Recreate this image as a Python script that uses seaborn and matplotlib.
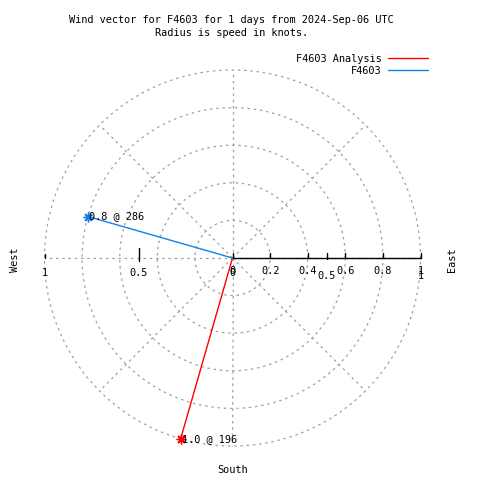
import numpy as np
import pandas as pd
import matplotlib
matplotlib.use('Agg')
import matplotlib.pyplot as plt
import seaborn as sns

# ── DATA ────────────────────────────────────────────────────
series = ['F4603 Analysis', 'F4603']
speeds = [1.0, 0.8]
directions = [196, 286]
colors = ['#ff0000', '#1080f0']
x_ticks = [-1, -0.5, 0, 0.5, 1]
x_tick_labels = ['1', '0.5', '0', '0.5', '1']
r_ticks = [0, 0.2, 0.4, 0.6, 0.8, 1.0]
r_tick_labels = ['0', '0.2', '0.4', '0.6', '0.8', '1']
grid_radii = [0.2, 0.4, 0.6, 0.8, 1.0]
grid_angles = [0, 45, 90, 135, 180, 225, 270, 315]

sns.set_style('white')
plt.rcParams['font.family'] = ['DejaVu Sans Mono']
plt.rcParams['text.color'] = 'black'
FS = 7.4

fig = plt.figure(figsize=(4.8, 4.8), dpi=100)
W = 480
cx, cy, R = 232.5, 258, 188
ax = fig.add_axes([(cx - R) / W, (W - cy - R) / W, 2 * R / W, 2 * R / W])
ax.set_xlim(-1, 1)
ax.set_ylim(-1, 1)
ax.axis('off')

def px(x, y):
    # pixel position -> data coords
    return (x - cx) / R, (cy - y) / R

grid_kw = dict(color='#a0a0a0', lw=0.9, ls=(0, (2, 3)), clip_on=False, zorder=1)
t = np.linspace(0, 2 * np.pi, 400)
for r in grid_radii:
    ax.plot(r * np.cos(t), r * np.sin(t), **grid_kw)
for a in grid_angles:
    ang = np.deg2rad(a)
    ax.plot([0, np.cos(ang)], [0, np.sin(ang)], **grid_kw)

# r axis (black, east)
ax.plot([0, 1], [0, 0], color='black', lw=1, clip_on=False, zorder=2)
for r in r_ticks:
    ax.plot([r, r], [0, 5 / R], color='black', lw=1, clip_on=False, zorder=2)
for r, lab in zip(r_ticks, r_tick_labels):
    ax.text(r, -13 / R, lab, ha='center', va='center', fontsize=FS)
# x axis ticks
for xv, lab in zip(x_ticks, x_tick_labels):
    if xv in (-0.5, 0.5):
        ax.plot([xv, xv], [-3 / R, 10 / R] if xv < 0 else [-1 / R, 5 / R],
                color='black', lw=1, clip_on=False, zorder=2)
    if xv == -1:
        ax.plot([xv, xv], [0, 4 / R], color='black', lw=1, clip_on=False, zorder=2)
    dy = -18 / R if xv > 0 else -15 / R
    ax.text(xv, dy, lab, ha='center', va='center', fontsize=FS)

# wind vectors
df = pd.DataFrame({'series': series, 'speed': speeds, 'dir': directions})
df['x'] = df['speed'] * np.sin(np.deg2rad(df['dir']))
df['y'] = df['speed'] * np.cos(np.deg2rad(df['dir']))
for (_, row), c in zip(df.iterrows(), colors):
    seg = pd.DataFrame({'x': [0, row['x']], 'y': [0, row['y']]})
    sns.lineplot(data=seg, x='x', y='y', sort=False, color=c, lw=1,
                 ax=ax, label=row['series'], zorder=3)
    ax.plot(row['x'], row['y'], marker=(8, 2, 0), ms=7, mew=1, color=c,
            clip_on=False, zorder=4)
    ax.text(row['x'] + 1 / R, row['y'], f"{row['speed']:.1f} @ {row['dir']}",
            ha='left', va='center', fontsize=FS, zorder=5)

ax.legend(loc='upper right', bbox_to_anchor=(428 / W, 1 - 54 / W),
          bbox_transform=fig.transFigure, frameon=False, markerfirst=False,
          fontsize=FS, handlelength=3.9, handletextpad=0.6, labelspacing=0.2,
          borderpad=0, borderaxespad=0)

# compass labels
ax.text(*px(15, 260), 'West', rotation=90, ha='center', va='center', fontsize=FS)
ax.text(*px(452, 260), 'East', rotation=90, ha='center', va='center', fontsize=FS)
ax.text(*px(232.5, 470), 'South', ha='center', va='center', fontsize=FS)

fig.text(231.5 / W, 1 - 20 / W, 'Wind vector for F4603 for 1 days from 2024-Sep-06 UTC',
         ha='center', va='center', fontsize=FS)
fig.text(231.5 / W, 1 - 33 / W, 'Radius is speed in knots.',
         ha='center', va='center', fontsize=FS)

fig.savefig('out.png', dpi=100)
